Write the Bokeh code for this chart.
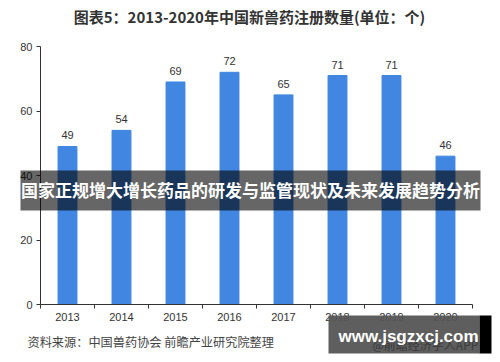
from bokeh.plotting import figure
from bokeh.models import Range1d, FixedTicker, Label, BoxAnnotation, ColumnDataSource
from bokeh.core.properties import value
from bokeh.embed import file_html
from bokeh.resources import INLINE

years = ["2013", "2014", "2015", "2016", "2017", "2018", "2019", "2020"]
counts = [49, 54, 69, 72, 65, 71, 71, 46]
y_ticks = [0, 20, 40, 60, 80]

title_text = "图表5：2013-2020年中国新兽药注册数量(单位：个)"
source_text = "资料来源：中国兽药协会 前瞻产业研究院整理"
banner_text = "国家正规增大增长药品的研发与监管现状及未来发展趋势分析"
mark_text = "www.jsgzxcj.com"
mark_sub = "@前瞻经济学人APP"

FONT = "Noto Sans CJK SC"
NUM = "Liberation Sans"

W, H = 500, 362
# plot area in canvas pixels (left, right, top, bottom)
PL, PR, PT, PB = 40, 472, 46, 304
n = len(years)
ymax = 80
sx = (PR - PL) / n
sy = (PB - PT) / ymax

centers = [i + 0.5 for i in range(n)]
src = ColumnDataSource(dict(x=centers, top=counts, lab=[str(c) for c in counts]))

p = figure(width=W, height=H, output_backend="svg", toolbar_location=None,
           x_range=Range1d(-PL / sx, (W - PL) / sx),
           y_range=Range1d(-(H - PB) / sy, PB / sy),
           min_border=0)
p.outline_line_color = None
p.grid.grid_line_color = None

p.vbar(x="x", top="top", width=0.35, bottom=0, source=src, color="#4186e0")
p.text(x="x", y="top", text="lab", source=src, text_align="center", text_baseline="bottom",
       y_offset=-7, text_font_size="11px", text_color="#333333", text_font=value(NUM))

xa = p.xaxis[0]
xa.fixed_location = 0
xa.bounds = (0, n)
xa.ticker = FixedTicker(ticks=centers, minor_ticks=list(range(n + 1)))
xa.major_label_overrides = {c: y for c, y in zip(centers, years)}
xa.major_tick_line_color = None
xa.major_tick_out = 0
xa.major_tick_in = 0
xa.minor_tick_in = 0
xa.minor_tick_out = 4
xa.minor_tick_line_color = "#333333"
xa.axis_line_color = "#333333"
xa.major_label_text_font_size = "11px"
xa.major_label_text_color = "#333333"
xa.major_label_text_font = NUM
xa.major_label_standoff = 4

ya = p.yaxis[0]
ya.fixed_location = 0
ya.bounds = (0, ymax)
ya.ticker = FixedTicker(ticks=y_ticks)
ya.minor_tick_line_color = None
ya.major_tick_in = 0
ya.major_tick_out = 4
ya.major_tick_line_color = "#333333"
ya.axis_line_color = "#333333"
ya.major_label_text_font_size = "11px"
ya.major_label_text_color = "#333333"
ya.major_label_text_font = NUM
ya.major_label_standoff = 4

def clabel(x, y, text, **kw):
    return Label(x=x, y=y, x_units="canvas", y_units="canvas", text=text, **kw)

def cbox(l, r, t, b, **kw):
    return BoxAnnotation(left=l, right=r, top=t, bottom=b, left_units="canvas", right_units="canvas",
                         top_units="canvas", bottom_units="canvas", line_color=None, level="overlay", **kw)

p.add_layout(clabel(249, 16, title_text, text_align="center", text_baseline="middle",
                    text_font=FONT, text_font_size="15px", text_font_style="bold", text_color="#333333"))
p.add_layout(clabel(27, 341, source_text, text_align="left", text_baseline="middle",
                    text_font=FONT, text_font_size="12.2px", text_color="#444444"))

p.add_layout(cbox(20, 480, 170, 210, fill_color="black", fill_alpha=0.6))
p.add_layout(clabel(250, 189, banner_text, text_align="center", text_baseline="middle",
                    text_font=FONT, text_font_size="17px", text_font_style="bold", text_color="white",
                    level="overlay"))

p.add_layout(cbox(328, 479, 315, 353, fill_color="#555555", fill_alpha=0.95))
p.add_layout(clabel(372, 344, mark_sub, text_align="left", text_baseline="middle",
                    text_font=FONT, text_font_size="12px", text_color="#3a3a3a", level="overlay"))
p.add_layout(cbox(479, 491, 315, 353, fill_color="black", fill_alpha=1.0))
p.add_layout(clabel(408, 336, mark_text, text_align="center", text_baseline="middle",
                    text_font=NUM, text_font_size="17px", text_font_style="bold",
                    text_color="white", level="overlay"))

open("out.html", "w").write(file_html(p, INLINE))
